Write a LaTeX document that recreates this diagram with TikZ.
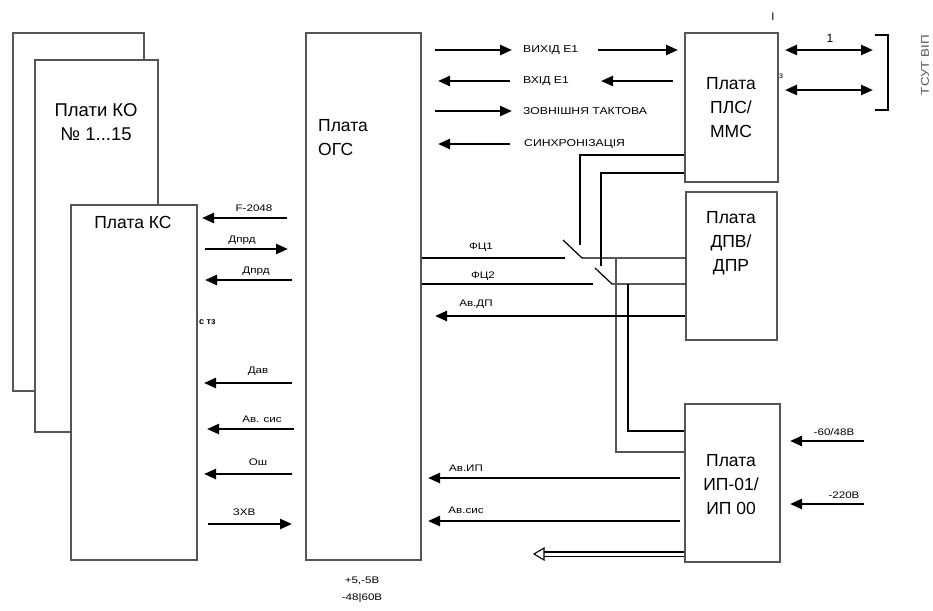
\documentclass[tikz,border=0pt]{standalone}
\usepackage{fontspec}
\setmainfont{Liberation Sans}
\newfontfamily\widesans[FakeStretch=1.22]{Liberation Sans}
\usetikzlibrary{positioning,arrows.meta,calc}
\definecolor{BoxGrey}{RGB}{85,85,85}

\begin{document}
\begin{tikzpicture}[x=1pt, y=-1pt, every node/.style={align=center, inner sep=0pt}]
\tikzset{
  board/.style={draw=BoxGrey, line width=1.3pt, fill=white},
  boardtext/.style={font=\fontsize{17.5}{24}\selectfont},
  toplbl/.style={font=\widesans\fontsize{10}{12}\selectfont, anchor=west},
  sig/.style={font=\widesans\fontsize{9.5}{11}\selectfont},
  tiny/.style={font=\fontsize{8}{9}\selectfont\rmfamily},
  arr/.style={-{Triangle[length=12pt,width=10pt]}, line width=2.4pt},
  dblarr/.style={{Triangle[length=12pt,width=10pt]}-{Triangle[length=12pt,width=10pt]}, line width=2.4pt},
  wire/.style={line width=1.2pt},
  heavywire/.style={line width=2pt},
  greywire/.style={line width=1.4pt, BoxGrey}
}
\useasboundingbox (0,0) rectangle (933,610);
  % boards
  \node[board, minimum width=131pt, minimum height=358pt] (ko1) at (78.5,212) {};
  \node[board, minimum width=123pt, minimum height=372pt] (ko2) at (96.5,246) {};
  \node[boardtext, font=\fontsize{18.5}{24}\selectfont] (kotxt) at (96,122) {Плати КО\\№ 1...15};
  \node[board, minimum width=126pt, minimum height=355pt] (ks) at (134,382.5) {};
  \node[boardtext] (kstxt) at (133,222) {Плата КС};
  \node[board, minimum width=115pt, minimum height=527pt] (ogc) at (363.5,296.5) {};
  \node[boardtext, align=left, anchor=west] (ogctxt) at (318,138) {Плата\\ОГС};
  \node[board, minimum width=93pt, minimum height=149pt] (pls) at (731.5,107.5) {};
  \node[boardtext] (plstxt) at (731,108) {Плата\\ПЛС/\\ММС};
  \node[board, minimum width=91pt, minimum height=148pt] (dpv) at (731.5,266) {};
  \node[boardtext] (dpvtxt) at (731,243) {Плата\\ДПВ/\\ДПР};
  \node[board, minimum width=95pt, minimum height=158pt] (ip) at (732.5,483) {};
  \node[boardtext] (iptxt) at (731,485) {Плата\\ИП-01/\\ИП 00};

  % KS <-> OGC
  \draw[arr] (287,218) -- (202,218);
  \node[sig] (f2048) at (254,208) {F-2048};
  \draw[arr] (205,249) -- (288,249);
  \node[sig] (dprd1) at (242,240) {Дпрд};
  \draw[arr] (292,280) -- (205,280);
  \node[sig] (dprd2) at (256,271) {Дпрд};
  \node[tiny, font=\fontsize{9}{10}\selectfont\rmfamily\bfseries, anchor=west] (stz) at (199,322) {с тз};
  \draw[arr] (292,383) -- (204,383);
  \node[sig] (dav) at (258,371) {Дав};
  \draw[arr] (294,429) -- (207,429);
  \node[sig] (avsys1) at (262,419) {Ав. сис};
  \draw[arr] (292,474) -- (204,474);
  \node[sig] (osh) at (258,462) {Ош};
  \draw[arr] (208,524) -- (292,524);
  \node[sig] (zxv) at (244,512) {ЗХВ};

  % OGC <-> PLS
  \node[toplbl] (vyh) at (523,50) {ВИХІД Е1};
  \draw[arr] (435,50) -- (512,50);
  \draw[arr] (598,50) -- (678,50);
  \node[toplbl] (vh) at (523,81) {ВХІД Е1};
  \draw[arr] (510,81) -- (438,81);
  \draw[arr] (673,81) -- (601,81);
  \node[toplbl] (zovn) at (523,111) {ЗОВНІШНЯ ТАКТОВА};
  \draw[arr] (435,111) -- (512,111);
  \node[toplbl] (synh) at (524,144) {СИНХРОНІЗАЦІЯ};
  \draw[arr] (510,144) -- (438,144);

  % PLS outputs
  \node[tiny, font=\fontsize{11}{12}\selectfont\rmfamily] (mark1) at (773,17) {I};
  \node[tiny, font=\fontsize{8.5}{9}\selectfont\rmfamily] (mark3) at (781,76) {з};
  \draw[dblarr] (785,50) -- (873,50);
  \node[tiny, font=\fontsize{12}{13}\selectfont\rmfamily] (one) at (830,38) {1};
  \draw[dblarr] (785,90) -- (873,90);
  \draw[wire] (875,35) -- (888,35) -- (888,110) -- (875,110);
  \node[sig, font=\widesans\fontsize{11}{12}\selectfont, rotate=90, text=BoxGrey] (tyt) at (925,65) {ТСУТ ВІП};

  % switches
  \coordinate (sw1a) at (563,240);
  \coordinate (sw1b) at (582,258);
  \coordinate (sw2a) at (595,268);
  \coordinate (sw2b) at (612,284);
  \draw[wire] (ogc.east |- sw1b) -- (565,258);
  \node[sig] (fc1) at (481,247) {ФЦ1};
  \draw[wire] (sw1a) -- (sw1b) -- (dpv.west |- sw1b);
  \draw[wire] (pls.west |- 0,155) -| (580,245);
  \draw[heavywire] (pls.west |- 0,173) -| (601,266);
  \draw[wire] (ogc.east |- sw2b) -- (593,284);
  \node[sig] (fc2) at (483,276) {ФЦ2};
  \draw[wire] (sw2a) -- (sw2b) -- (dpv.west |- sw2b);
  \draw[greywire] (616,258) |- (ip.west |- 0,452);
  \draw[heavywire] (628,284) |- (ip.west |- 0,431);
  \draw[arr] (dpv.west |- 0,316) -- (435,316);
  \node[sig] (avdp) at (476,304) {Ав.ДП};

  % IP outputs and inputs
  \draw[arr, shorten <=4pt] (ip.west |- 0,478) -- (428,478);
  \node[sig] (avip) at (466,468) {Ав.ИП};
  \draw[arr, shorten <=4pt] (ip.west |- 0,521) -- (428,521);
  \node[sig] (avsys2) at (466,510) {Ав.сис};
  \coordinate (hollowtip) at (534,554);
  \draw[double, double distance=3pt, line width=1.1pt] (ip.west |- hollowtip) -- ([xshift=10pt]hollowtip);
  \draw[line width=1.1pt, fill=white] ([xshift=10pt, yshift=-6pt]hollowtip) -- (hollowtip) -- ([xshift=10pt, yshift=6pt]hollowtip) -- cycle;
  \draw[arr] (864,441) -- (790,441);
  \node[sig] (in6048) at (834,432) {-60/48В};
  \draw[arr] (864,504) -- (790,504);
  \node[sig] (in220) at (844,495) {-220В};

  \node[sig, font=\widesans\fontsize{9.5}{17}\selectfont] (pwr) at (362,590) {+5,-5В\\-48|60В};
\end{tikzpicture}
\end{document}
